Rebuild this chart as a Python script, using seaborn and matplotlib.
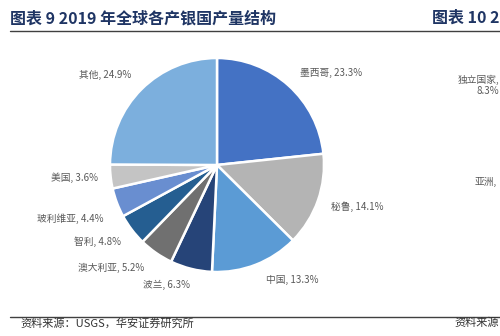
import matplotlib
matplotlib.use("Agg")
import matplotlib.pyplot as plt
import seaborn as sns
from matplotlib.lines import Line2D

sns.set_theme(style="white")
plt.rcParams['font.family'] = ['Noto Sans CJK SC', 'DejaVu Sans']

# data
countries = ["墨西哥", "秘鲁", "中国", "波兰", "澳大利亚", "智利", "玻利维亚", "美国", "其他"]
shares = [23.3, 14.1, 13.3, 6.3, 5.2, 4.8, 4.4, 3.6, 24.9]
colors = ["#4472C4", "#B4B4B4", "#5B9BD5", "#264478", "#707070",
          "#255E91", "#698ED0", "#C4C4C4", "#7CAFDD"]
# label placement (in units of radius), like the source's best-fit layout
label_pos = [(1.07, 0.86), (1.31, -0.39), (0.70, -1.07), (-0.47, -1.12),
             (-0.99, -0.96), (-1.12, -0.72), (-1.37, -0.50), (-1.33, -0.12),
             (-1.05, 0.84)]

W, H = 500, 336
fig = plt.figure(figsize=(W / 100, H / 100), dpi=100)
fig.patch.set_facecolor("white")

# pie axes: center (217,165) px, radius 107 px
cx, cy, r = 217, 165, 107
ax = fig.add_axes([(cx - r) / W, (H - cy - r) / H, 2 * r / W, 2 * r / H])
wedges, _ = ax.pie(shares, colors=colors, startangle=90, counterclock=False,
                   radius=1.0, wedgeprops=dict(edgecolor="white", linewidth=1.8))
ax.set_xlim(-1, 1)
ax.set_ylim(-1, 1)
ax.set_aspect("equal")
ax.axis("off")

for name, val, (lx, ly) in zip(countries, shares, label_pos):
    ax.text(lx, ly, f"{name}, {val:.1f}%", ha="center", va="center",
            fontsize=7, color="#595959", clip_on=False)

# title and frame texts
navy = "#1F3564"
fig.text(10 / W, 1 - 18 / H, "图表 9 2019 年全球各产银国产量结构", fontsize=11.5,
         fontweight="bold", color=navy, ha="left", va="center")
fig.text(499 / W, 1 - 18 / H, "图表 10 2", fontsize=11.5,
         fontweight="bold", color=navy, ha="right", va="center")

fig.add_artist(Line2D([10 / W, 1], [1 - 31 / H, 1 - 31 / H], color="#404040", lw=1.0))
fig.add_artist(Line2D([10 / W, 1], [1 - 317 / H, 1 - 317 / H], color="#404040", lw=1.0))

fig.text(20 / W, 1 - 323 / H, "资料来源：USGS，华安证券研究所", fontsize=8,
         color="#333333", ha="left", va="center")
fig.text(499 / W, 1 - 323 / H, "资料来源", fontsize=8,
         color="#333333", ha="right", va="center")

# partial labels of the neighbouring chart
fig.text(499 / W, 1 - 80 / H, "独立国家,", fontsize=7, color="#595959",
         ha="right", va="center")
fig.text(499 / W, 1 - 91 / H, "8.3%", fontsize=7, color="#595959",
         ha="right", va="center")
fig.text(497 / W, 1 - 182 / H, "亚洲,", fontsize=7, color="#595959",
         ha="right", va="center")

fig.savefig("out.png", dpi=100, facecolor="white")
